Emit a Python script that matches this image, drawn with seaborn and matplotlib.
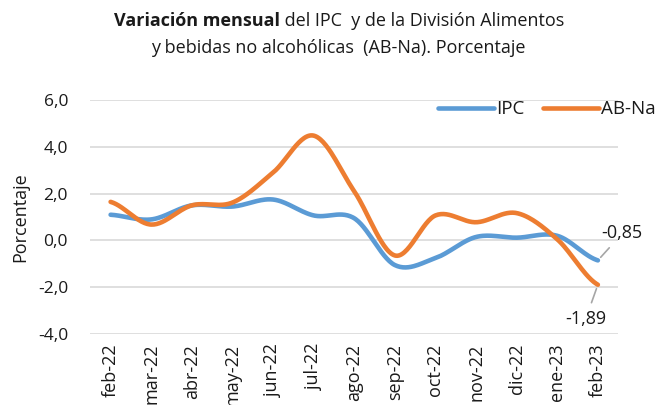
import numpy as np
import pandas as pd
import matplotlib
matplotlib.use("Agg")
import matplotlib.pyplot as plt
import seaborn as sns

# data
meses = ["feb-22", "mar-22", "abr-22", "may-22", "jun-22", "jul-22", "ago-22",
         "sep-22", "oct-22", "nov-22", "dic-22", "ene-23", "feb-23"]
ipc = [1.10, 0.90, 1.50, 1.45, 1.75, 1.07, 0.95, -1.05, -0.75, 0.15, 0.12, 0.20, -0.85]
abna = [1.65, 0.68, 1.50, 1.62, 2.90, 4.48, 2.10, -0.64, 1.07, 0.78, 1.17, 0.05, -1.89]
yticks = [-4, -2, 0, 2, 4, 6]

blue = "#5B9BD5"
orange = "#ED7D31"
txt = "#1a1a1a"


def smooth(vals, n=30):
    # catmull-rom style smoothing like excel's "smoothed line"
    p = np.array(vals, dtype=float)
    x = np.arange(len(p), dtype=float)
    pp = np.concatenate([[p[0]], p, [p[-1]]])
    xs, ys = [], []
    for i in range(len(p) - 1):
        p0, p1, p2, p3 = pp[i], pp[i + 1], pp[i + 2], pp[i + 3]
        t = np.linspace(0, 1, n, endpoint=False)
        y = 0.5 * (2 * p1 + (-p0 + p2) * t + (2 * p0 - 5 * p1 + 4 * p2 - p3) * t ** 2
                   + (-p0 + 3 * p1 - 3 * p2 + p3) * t ** 3)
        xs.extend(x[i] + t)
        ys.extend(y)
    xs.append(x[-1])
    ys.append(p[-1])
    return np.array(xs), np.array(ys)


rows = []
for name, vals in [("IPC", ipc), ("AB-Na", abna)]:
    xs, ys = smooth(vals)
    rows.append(pd.DataFrame({"x": xs, "y": ys, "serie": name}))
df = pd.concat(rows, ignore_index=True)

sns.set_style("white")
plt.rcParams["font.family"] = ["Open Sans", "DejaVu Sans"]
plt.rcParams["text.color"] = txt

fig = plt.figure(figsize=(6.64, 4.05), dpi=100)
ax = fig.add_axes([0.136, 0.175, 0.795, 0.578])

sns.lineplot(data=df, x="x", y="y", hue="serie", palette=[blue, orange],
             linewidth=3.3, ax=ax, legend=False, solid_capstyle="round")

ax.set_ylim(-4, 6)
ax.set_xlim(-0.5, len(meses) - 0.5)
ax.set_yticks(yticks)
ax.set_yticklabels([f"{v:.1f}".replace(".", ",") for v in yticks], fontsize=12.5, color=txt)
ax.set_xticks(range(len(meses)))
ax.set_xticklabels(meses, rotation=90, fontsize=13, color=txt)
ax.tick_params(axis="y", length=0, pad=16)
ax.tick_params(axis="x", length=0, pad=7)
ax.yaxis.grid(True, color="#d9d9d9", linewidth=1.2)
for s in ax.spines.values():
    s.set_visible(False)
ax.set_xlabel("")
ax.set_ylabel("Porcentaje", fontsize=13, labelpad=6, color=txt)

# labels on the last point
ax.annotate("-0,85", xy=(12, ipc[-1]), xytext=(12.6, 0.3), fontsize=13,
            ha="center", va="center",
            arrowprops=dict(arrowstyle="-", color="#a6a6a6", lw=1.2, shrinkA=2, shrinkB=3))
ax.annotate("-1,89", xy=(12, abna[-1]), xytext=(11.7, -3.35), fontsize=13,
            ha="center", va="center",
            arrowprops=dict(arrowstyle="-", color="#a6a6a6", lw=1.2, shrinkA=3, shrinkB=3))

h1, = ax.plot([], [], color=blue, lw=3.3, solid_capstyle="round")
h2, = ax.plot([], [], color=orange, lw=3.3, solid_capstyle="round")
fig.legend([h1, h2], ["IPC", "AB-Na"], loc="center right", bbox_to_anchor=(1.013, 0.73),
           ncol=2, frameon=False, fontsize=13.5, handlelength=3.0, handletextpad=0.1,
           columnspacing=1.0)

# title: bold first words, then regular text on the same line
fig.canvas.draw()
r = fig.canvas.get_renderer()
t1 = fig.text(0, 0.948, "Variación mensual", fontsize=13, fontweight="bold", va="center")
t2 = fig.text(0, 0.948, " del IPC  y de la División Alimentos", fontsize=13, va="center")
w1 = t1.get_window_extent(r).width / fig.bbox.width
w2 = t2.get_window_extent(r).width / fig.bbox.width
x0 = 0.51 - (w1 + w2) / 2
t1.set_x(x0)
t2.set_x(x0 + w1)
fig.text(0.51, 0.882, "y bebidas no alcohólicas  (AB-Na). Porcentaje",
         ha="center", va="center", fontsize=13)

fig.savefig("out.png", dpi=100)
